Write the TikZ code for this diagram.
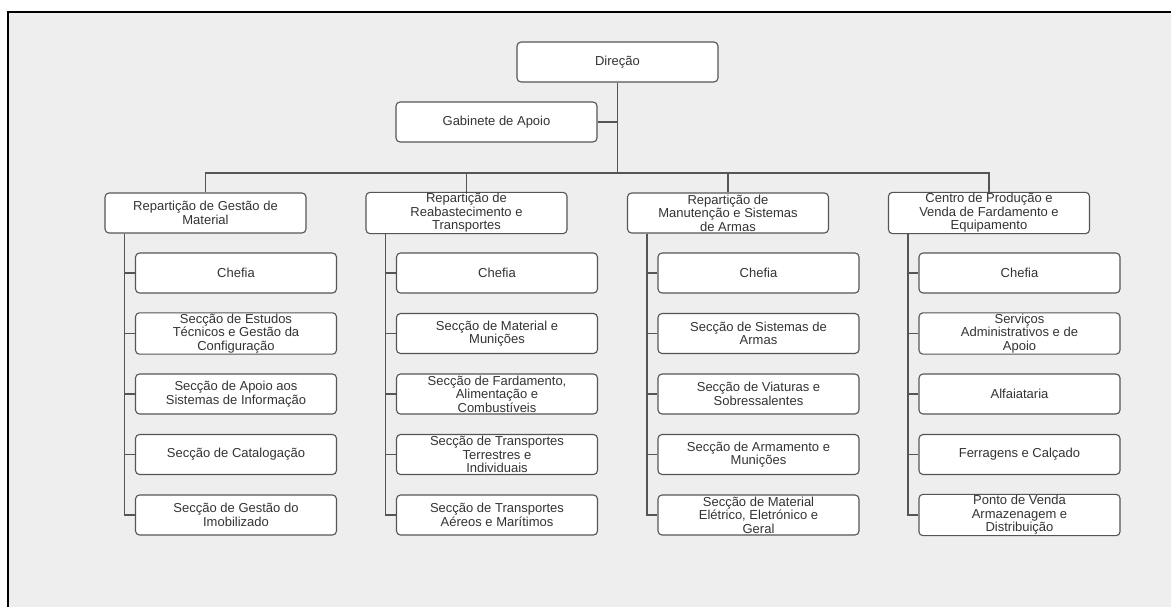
\documentclass[tikz,border=0pt]{standalone}
\usepackage{fontspec}
\setmainfont{Liberation Sans}
\usetikzlibrary{positioning}

\definecolor{panel}{HTML}{EEEEEE}
\definecolor{edgegray}{HTML}{555555}
\definecolor{textgray}{HTML}{333333}

\begin{document}
\begin{tikzpicture}[x=1pt,y=-1pt,node distance=60.5pt,on grid,
    box/.style={draw=edgegray,fill=white,line width=1.1pt,rounded corners=4pt,
      minimum width=201pt,minimum height=40pt,inner sep=1pt,align=center,
      text=textgray,font=\fontsize{13}{13.6}\selectfont},
    link/.style={draw=edgegray,line width=1.1pt}]
    \useasboundingbox (0,0) rectangle (1171,607);
    \fill[panel] (8,12) rectangle (1171,607);
    \draw[line width=2pt] (8,607) -- (8,12) -- (1171,12);

    % top level
    \node[box] (dir) at (617.5,62) {Direção};
    \node[box] (gab) at (496.5,122) {Gabinete de Apoio};
    \coordinate (bus) at (617.5,173);

    % reparticoes
    \node[box] (rep1) at (205.5,213) {Repartição de Gestão de\\Material};
    \node[box] (rep2) at (466.5,213) {Repartição de\\Reabastecimento e\\Transportes};
    \node[box] (rep3) at (728,213) {Repartição de\\Manutenção e Sistemas\\de Armas};
    \node[box] (rep4) at (989,213) {Centro de Produção e\\Venda de Fardamento e\\Equipamento};

    % column 1
    \node[box] (c11) [below=60pt of rep1,xshift=30.5pt] {Chefia};
    \node[box] (c12) [below=of c11] {Secção de Estudos\\Técnicos e Gestão da\\Configuração};
    \node[box] (c13) [below=of c12] {Secção de Apoio aos\\Sistemas de Informação};
    \node[box] (c14) [below=of c13] {Secção de Catalogação};
    \node[box] (c15) [below=of c14] {Secção de Gestão do\\Imobilizado};

    % column 2
    \node[box] (c21) [below=60pt of rep2,xshift=30.5pt] {Chefia};
    \node[box] (c22) [below=of c21] {Secção de Material e\\Munições};
    \node[box] (c23) [below=of c22] {Secção de Fardamento,\\Alimentação e\\Combustíveis};
    \node[box] (c24) [below=of c23] {Secção de Transportes\\Terrestres e\\Individuais};
    \node[box] (c25) [below=of c24] {Secção de Transportes\\Aéreos e Marítimos};

    % column 3
    \node[box] (c31) [below=60pt of rep3,xshift=30.5pt] {Chefia};
    \node[box] (c32) [below=of c31] {Secção de Sistemas de\\Armas};
    \node[box] (c33) [below=of c32] {Secção de Viaturas e\\Sobressalentes};
    \node[box] (c34) [below=of c33] {Secção de Armamento e\\Munições};
    \node[box] (c35) [below=of c34] {Secção de Material\\Elétrico, Eletrónico e\\Geral};

    % column 4
    \node[box] (c41) [below=60pt of rep4,xshift=30.5pt] {Chefia};
    \node[box] (c42) [below=of c41] {Serviços\\Administrativos e de\\Apoio};
    \node[box] (c43) [below=of c42] {Alfaiataria};
    \node[box] (c44) [below=of c43] {Ferragens e Calçado};
    \node[box] (c45) [below=of c44] {Ponto de Venda\\Armazenagem e\\Distribuição};

    % trunks
    \coordinate (t1) at ([xshift=20pt]rep1.south west);
    \coordinate (t2) at ([xshift=20pt]rep2.south west);
    \coordinate (t3) at ([xshift=20pt]rep3.south west);
    \coordinate (t4) at ([xshift=20pt]rep4.south west);

    \path[link]
    (dir.south) -- (bus)
    (gab.east) -- (gab.east -| dir.south)
    (rep1.north) -- (rep1.north |- bus) -- (rep4.north |- bus) -- (rep4.north)
    (rep2.north) -- (rep2.north |- bus)
    (rep3.north) -- (rep3.north |- bus)
    (t1) |- (c11.west) (t1) |- (c12.west) (t1) |- (c13.west) (t1) |- (c14.west) (t1) |- (c15.west)
    (t2) |- (c21.west) (t2) |- (c22.west) (t2) |- (c23.west) (t2) |- (c24.west) (t2) |- (c25.west)
    (t3) |- (c31.west) (t3) |- (c32.west) (t3) |- (c33.west) (t3) |- (c34.west) (t3) |- (c35.west)
    (t4) |- (c41.west) (t4) |- (c42.west) (t4) |- (c43.west) (t4) |- (c44.west) (t4) |- (c45.west);
\end{tikzpicture}
\end{document}
